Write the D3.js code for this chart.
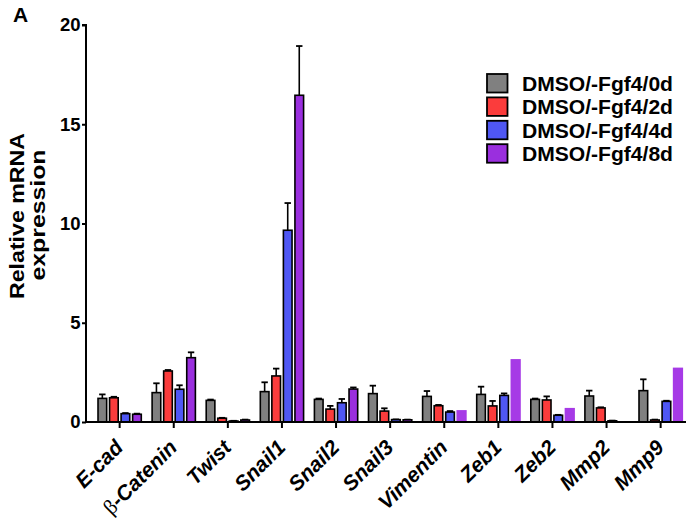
<!DOCTYPE html>
<html><head><meta charset="utf-8">
<script src="https://cdn.jsdelivr.net/npm/d3@7"></script>
<style>body{margin:0;background:#fff}svg{display:block}text{font-family:"Liberation Sans",Arial,sans-serif}</style>
</head><body><svg id="c" width="686" height="523"></svg>
<script>
const genes = ["E-cad","β-Catenin","Twist","Snail1","Snail2","Snail3","Vimentin","Zeb1","Zeb2","Mmp2","Mmp9"];
const seriesNames = ["DMSO/-Fgf4/0d","DMSO/-Fgf4/2d","DMSO/-Fgf4/4d","DMSO/-Fgf4/8d"];
const d0    = [1.19,1.48,1.09,1.53,1.14,1.43,1.29,1.39,1.14,1.31,1.58];
const d0err = [0.20,0.47,0.04,0.47,0.04,0.40,0.27,0.39,0.04,0.27,0.57];
const d2    = [1.22,2.57,0.19,2.32,0.65,0.55,0.82,0.81,1.11,0.71,0.10];
const d2err = [0.05,0.05,0.02,0.37,0.16,0.14,0.04,0.25,0.18,0.03,0.02];
const d4    = [0.42,1.65,0.05,9.66,0.97,0.12,0.50,1.34,0.34,0.06,1.04];
const d4err = [0.03,0.20,0.01,1.37,0.19,0.01,0.05,0.10,0.02,0.01,0.03];
const d8    = [0.39,3.24,0.10,16.46,1.66,0.11,0.60,3.17,0.71,0,2.74];
const d8err = [0.03,0.27,0.02,2.48,0.08,0.01,null,null,null,null,null];
const yTicks = [0,5,10,15,20];

const colors = ["#808080","#fb3c3c","#4f57f4","#9a2fde"];
const values = [d0,d2,d4,d8], errs = [d0err,d2err,d4err,d8err];

const svg = d3.select("#c");
const y = d3.scaleLinear().domain([0,20]).range([422,25]);
const x = d3.scaleBand().domain(genes).range([92.6,687.7]).paddingInner(0.2).paddingOuter(0.1);
const xs = d3.scaleBand().domain(d3.range(4)).range([0,x.bandwidth()]).paddingInner(0.25);

// bars
const rows = [];
genes.forEach((g,i)=>values.forEach((v,s)=>rows.push({g,s,v:v[i],e:errs[s][i]})));
const gb = svg.append("g");
rows.filter(r=>r.v>0).forEach(r=>{
  const bx = x(r.g)+xs(r.s), bw = xs.bandwidth();
  if (r.e!==null) {
    const top = y(r.v+r.e), cx = bx+bw/2;
    gb.append("line").attr("x1",cx).attr("x2",cx).attr("y1",y(r.v)).attr("y2",top).attr("stroke","#000").attr("stroke-width",1.6);
    gb.append("line").attr("x1",cx-3.2).attr("x2",cx+3.2).attr("y1",top).attr("y2",top).attr("stroke","#000").attr("stroke-width",1.8);
    gb.append("rect").attr("x",bx).attr("y",y(r.v)).attr("width",bw).attr("height",y(0)-y(r.v))
      .attr("fill",colors[r.s]).attr("stroke","#000").attr("stroke-width",1.6);
  } else {
    gb.append("rect").attr("x",bx-0.8).attr("y",y(r.v)).attr("width",bw+1.6).attr("height",y(0)-y(r.v))
      .attr("fill","#a63ae6");
  }
});

// y axis
const ya = svg.append("g").attr("transform","translate(86,0)")
  .call(d3.axisLeft(y).tickValues(yTicks).tickSize(4).tickPadding(1.5));
ya.select(".domain").attr("stroke-width",2).attr("d","M-4,"+y(20)+"H0V"+y(0));
ya.selectAll(".tick line").attr("stroke-width",2);
ya.selectAll(".tick text").attr("font-size",18.5).attr("font-weight","bold").attr("font-family","Liberation Sans, Arial").attr("fill","#000");

// x axis
const xa = svg.append("g").attr("transform","translate(0,422)")
  .call(d3.axisBottom(x).tickSize(6).tickFormat(""));
xa.select(".domain").attr("stroke-width",2).attr("d","M86,0H686");
xa.selectAll(".tick line").attr("stroke-width",2);
const xl = svg.append("g");
genes.forEach(g=>{
  const t = xl.append("text").attr("transform",`translate(${x(g)+x.bandwidth()/2-6},${438}) rotate(-45)`)
    .attr("text-anchor","end").attr("dy","0.72em").attr("font-size",21).attr("font-weight","bold").attr("font-style","italic");
  if (g.startsWith("β")) {
    t.append("tspan").attr("font-family","Liberation Serif, serif").attr("font-weight","normal").attr("font-style","normal").attr("font-size",21).text("β");
    t.append("tspan").text(g.slice(1));
  } else t.text(g);
});

// y title
svg.append("text").attr("transform","translate(24,216) rotate(-90)").attr("text-anchor","middle")
  .attr("font-size",19.5).attr("font-weight","bold").attr("textLength",166).attr("lengthAdjust","spacingAndGlyphs").text("Relative mRNA");
svg.append("text").attr("transform","translate(45,215) rotate(-90)").attr("text-anchor","middle")
  .attr("font-size",19.5).attr("font-weight","bold").attr("textLength",131).attr("lengthAdjust","spacingAndGlyphs").text("expression");

// panel label
svg.append("text").attr("x",13).attr("y",22).attr("font-size",21).attr("font-weight","bold").text("A");

// legend
const lg = svg.append("g");
seriesNames.forEach((n,i)=>{
  const ly = 74 + i*23.4;
  lg.append("rect").attr("x",487).attr("y",ly).attr("width",20.5).attr("height",18.5)
    .attr("fill",colors[i]).attr("stroke","#000").attr("stroke-width",1.8);
  lg.append("text").attr("x",522).attr("y",ly+9.5).attr("dy","0.36em").attr("font-size",20)
    .attr("textLength",151).attr("lengthAdjust","spacingAndGlyphs").attr("font-weight","bold").text(n);
});
</script></body></html>
